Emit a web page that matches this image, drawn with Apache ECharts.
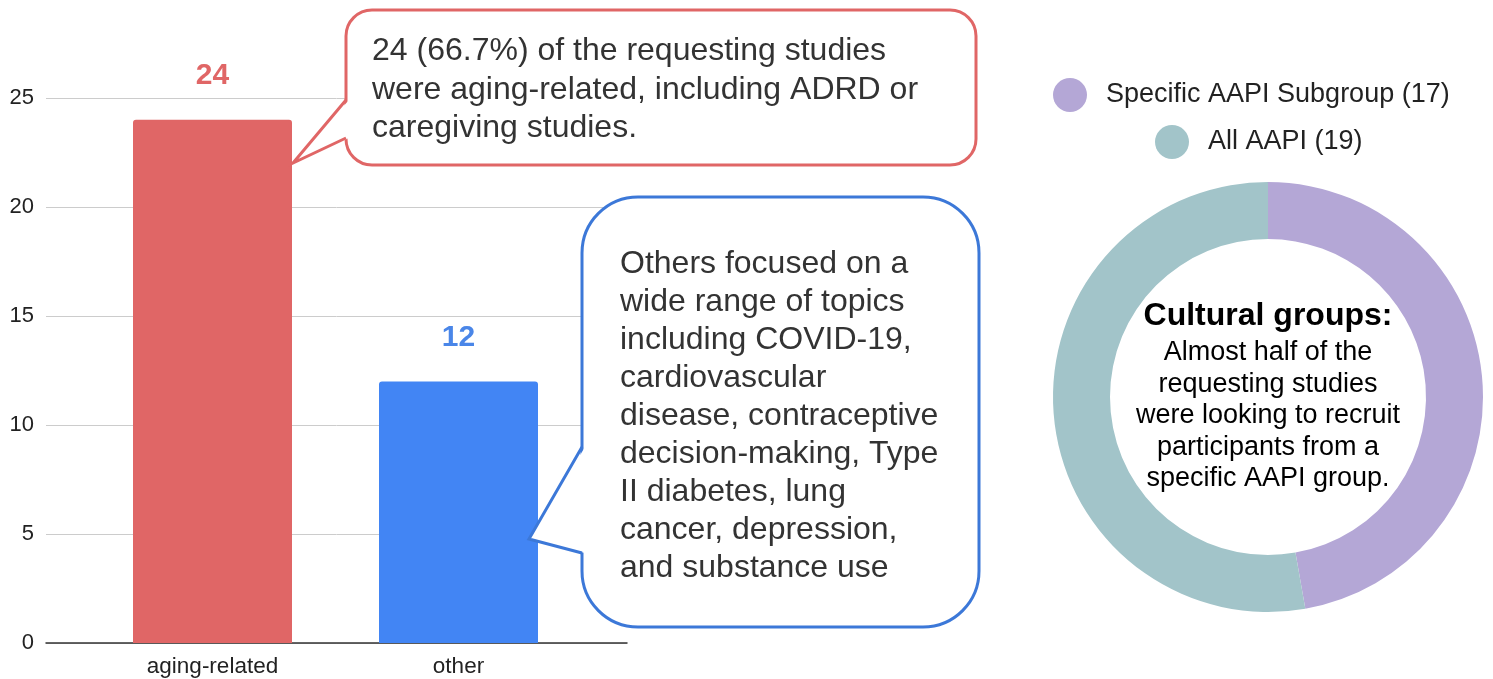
<!DOCTYPE html>
<html>
<head>
<meta charset="utf-8">
<title>Requesting studies</title>
<script src="https://cdn.jsdelivr.net/npm/echarts@6/dist/echarts.min.js"></script>
<style>
  html, body { margin: 0; padding: 0; background: #fff; }
  #chart { width: 1493px; height: 679px; }
</style>
</head>
<body>
<div id="chart"></div>
<script>
  // bar chart data
  var categories = ['aging-related', 'other'];
  var studyCounts = [24, 12];
  var yTicks = [0, 5, 10, 15, 20, 25];

  // donut data
  var groupNames = ['Specific AAPI Subgroup (17)', 'All AAPI (19)'];
  var groupCounts = [17, 19];

  // styles
  var barColors = ['#e06666', '#4285f4'];
  var labelColors = ['#e06666', '#4a86e8'];
  var groupColors = ['#b4a7d6', '#a2c4c9'];
  var font = "'Liberation Sans', Arial, sans-serif";

  var redNote = ['24 (66.7%) of the requesting studies', 'were aging-related, including ADRD or', 'caregiving studies.'];
  var blueNote = ['Others focused on a', 'wide range of topics', 'including COVID-19,', 'cardiovascular', 'disease, contraceptive', 'decision-making, Type', 'II diabetes, lung', 'cancer, depression,', 'and substance use'];
  var centerTitle = 'Cultural groups:';
  var centerNote = ['Almost half of the', 'requesting studies', 'were looking to recruit', 'participants from a', 'specific AAPI group.'];

  // callout = rounded box + tail pointing at a bar
  function callout(box, tail, color, r) {
    return [
      { type: 'rect', z: 10, shape: { x: box[0], y: box[1], width: box[2], height: box[3], r: r },
        style: { fill: '#fff', stroke: color, lineWidth: 3 } },
      { type: 'polygon', z: 11, shape: { points: [tail[1], [tail[0][0] + 3, tail[0][1]], [tail[2][0] + 3, tail[2][1]]] },
        style: { fill: '#fff', stroke: null } },
      { type: 'polyline', z: 12, shape: { points: tail },
        style: { fill: null, stroke: color, lineWidth: 3, lineJoin: 'miter' } }
    ];
  }

  var chart = echarts.init(document.getElementById('chart'));

  var graphics = []
    .concat(callout([346, 10, 630, 155], [[346, 100], [293, 163], [346, 138]], '#e06666', 26))
    .concat(callout([582, 197, 397, 430], [[582, 447], [529, 539], [582, 553]], '#3c78d8', 56))
    .concat([
      { type: 'text', z: 13, x: 372, y: 32,
        style: { text: redNote.join('\n'), fill: '#333', font: '32px ' + font, lineHeight: 38.5, textVerticalAlign: 'top' } },
      { type: 'text', z: 13, x: 620, y: 245,
        style: { text: blueNote.join('\n'), fill: '#333', font: '32px ' + font, lineHeight: 38, textVerticalAlign: 'top' } },
      { type: 'text', z: 13, x: 1268, y: 300,
        style: { text: centerTitle, fill: '#000', font: 'bold 32px ' + font, lineHeight: 32, textAlign: 'center', textVerticalAlign: 'top' } },
      { type: 'text', z: 13, x: 1268, y: 337,
        style: { text: centerNote.join('\n'), fill: '#000', font: '27px ' + font, lineHeight: 31.5, textAlign: 'center', textVerticalAlign: 'top' } }
    ]);

  function legendAt(name, left, top) {
    return {
      data: [name], left: left, top: top, padding: 0,
      icon: 'circle', itemWidth: 34, itemHeight: 34,
      textStyle: { fontSize: 27, fontFamily: font, color: '#222', padding: [0, 0, 0, 14] }
    };
  }

  chart.setOption({
    animation: false,
    textStyle: { fontFamily: font },
    legend: [legendAt(groupNames[0], 1053, 78), legendAt(groupNames[1], 1155, 125)],
    grid: [
      { left: 46, right: 866, top: 98, bottom: 36 },
      { left: 89.5, width: 492, top: 98, bottom: 36 }
    ],
    xAxis: [
      { gridIndex: 0, type: 'category', data: [''],
        axisLine: { lineStyle: { color: '#333', width: 1.5 } },
        axisTick: { show: false }, axisLabel: { show: false } },
      { gridIndex: 1, type: 'category', data: categories,
        axisLine: { show: false }, axisTick: { show: false },
        axisLabel: { fontSize: 22.5, color: '#222', margin: 12 } }
    ],
    yAxis: [
      { gridIndex: 0, type: 'value', min: yTicks[0], max: yTicks[yTicks.length - 1], interval: yTicks[1] - yTicks[0],
        axisLine: { show: false }, axisTick: { show: false },
        axisLabel: { fontSize: 22, color: '#222', margin: 12 },
        splitLine: { lineStyle: { color: '#cccccc', width: 1 } } },
      { gridIndex: 1, type: 'value', min: yTicks[0], max: yTicks[yTicks.length - 1], interval: yTicks[1] - yTicks[0],
        show: false, splitLine: { show: false } }
    ],
    series: [
      {
        type: 'bar', xAxisIndex: 1, yAxisIndex: 1, barWidth: 159,
        data: studyCounts.map(function (v, i) {
          return { value: v, itemStyle: { color: barColors[i] }, label: { color: labelColors[i] } };
        }),
        itemStyle: { borderRadius: [3, 3, 0, 0] },
        label: { show: true, position: 'top', distance: 29, fontSize: 30, fontWeight: 'bold' }
      },
      {
        type: 'pie', center: [1268, 397], radius: [158, 215], startAngle: 90, clockwise: true,
        label: { show: false }, labelLine: { show: false },
        data: groupNames.map(function (n, i) {
          return { name: n, value: groupCounts[i], itemStyle: { color: groupColors[i] } };
        })
      }
    ],
    graphic: graphics
  });
</script>
</body>
</html>
